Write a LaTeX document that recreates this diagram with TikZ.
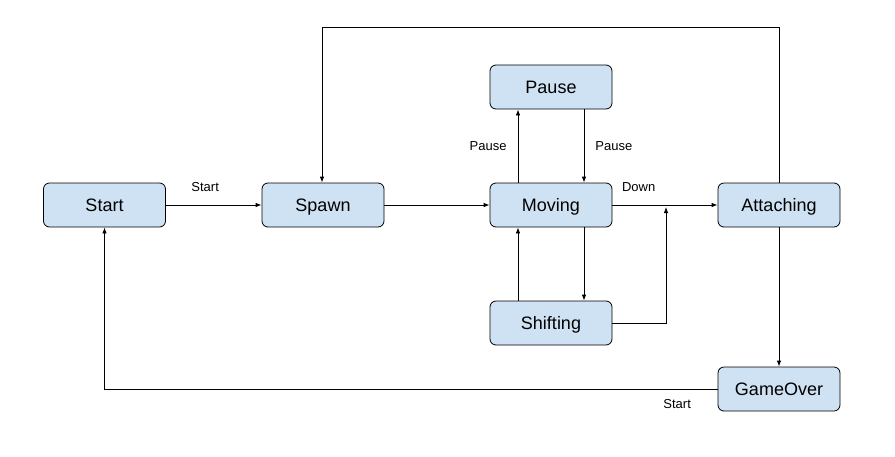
\documentclass[tikz,border=0pt]{standalone}
\usepackage{fontspec}
\setmainfont{Liberation Sans}
\usetikzlibrary{%
  shapes,
  arrows.meta,
  positioning,
  calc
}
\definecolor{stateblue}{HTML}{CFE2F3}
\tikzstyle{state} = [draw, fill=stateblue, rounded corners=6pt, minimum height=44pt, minimum width=122pt, inner sep=0pt, text height=13pt, text depth=0pt, font=\fontsize{18}{20}\selectfont]
\tikzstyle{input} = [coordinate]
\tikzstyle{lbl} = [font=\fontsize{13}{15}\selectfont, inner sep=2pt]

\begin{document}
\begin{tikzpicture}[auto, node distance=1cm, >={Latex[length=6pt,width=4.5pt]}, line width=0.8pt]
        \useasboundingbox (0pt,0pt) rectangle (895pt,-456pt);
        \node[state] at (104.5pt,-205pt) (start) {Start};
        \node[state, right of=start, node distance=218.5pt] (spawn) {Spawn};
        \node[state, right of=spawn, node distance=228pt] (moving) {Moving};
        \node[state, above of=moving, node distance=118pt] (pause) {Pause};
        \node[state, below of=moving, node distance=118pt] (shifting) {Shifting};
        \node[state, right of=moving, node distance=228pt] (attaching) {Attaching};
        \node[state, below of=attaching, node distance=184pt] (gameover) {GameOver};
        \node[input, above of=attaching, node distance=178pt] (top) {};
        \node[input] at (666pt,-207pt) (join) {};
        \draw[->](start) -- node[lbl, pos=0.41, above=11pt]{Start} (spawn);
        \draw[->](spawn) -- (moving);
        \draw[->]($(moving.north)+(-33pt,0)$) -- node[lbl, left=9pt]{Pause} ($(pause.south)+(-33pt,0)$);
        \draw[->]($(pause.south)+(33pt,0)$) -- node[lbl, right=9pt]{Pause} ($(moving.north)+(33pt,0)$);
        \draw[->]($(moving.south)+(33pt,0)$) -- ($(shifting.north)+(33pt,0)$);
        \draw[->]($(shifting.north)+(-33pt,0)$) -- ($(moving.south)+(-33pt,0)$);
        \draw[->](moving) -- node[lbl, pos=0.25, above=11pt]{Down} (attaching);
        \draw[->](shifting.east) -| (join);
        \draw[->](attaching.north) -- (top) -| ($(spawn.north)+(-1pt,0)$);
        \draw[->](attaching) -- (gameover);
        \draw[->](gameover.west) -| node[lbl, pos=0.033, below=8pt]{Start} (start.south);
      \end{tikzpicture}
\end{document}
